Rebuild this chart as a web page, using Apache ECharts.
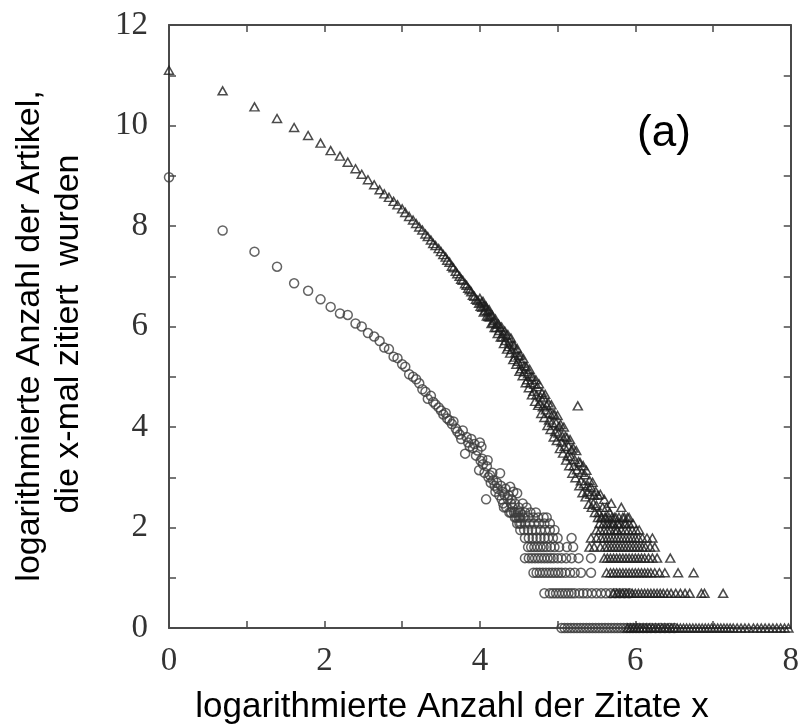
<!DOCTYPE html>
<html><head><meta charset="utf-8">
<script src="https://cdn.jsdelivr.net/npm/echarts@6/dist/echarts.min.js"></script>
<style>html,body{margin:0;padding:0;background:#fff}#c{width:802px;height:728px}</style>
</head><body><div id="c"></div>
<script>
// axis ranges / tick labels
const xRange = [0, 8];
const yRange = [0, 12];
const xLabelValues = [0, 2, 4, 6, 8];
const yLabelValues = [0, 2, 4, 6, 8, 10, 12];

// triangles: upper distribution, distinct points [x, y]
const triCurve = [[0,11.10],[0.69,10.69],[1.10,10.37],[1.39,10.14],[1.61,9.96],[1.79,9.80],[1.95,9.65],[2.08,9.50],[2.20,9.39],[2.30,9.27],[2.40,9.14],[2.48,9.03],[2.56,8.92],[2.64,8.82],[2.71,8.72],[2.77,8.64],[2.83,8.57],[2.89,8.49],[2.94,8.42],[3.00,8.34],[3.04,8.27],[3.09,8.19],[3.14,8.12],[3.18,8.05],[3.22,7.98],[3.26,7.92],[3.30,7.84],[3.33,7.79],[3.37,7.72],[3.40,7.65],[3.43,7.61],[3.47,7.55],[3.50,7.49],[3.53,7.43],[3.56,7.38],[3.58,7.32],[3.61,7.28],[3.64,7.20],[3.66,7.17],[3.69,7.10],[3.71,7.05],[3.74,7.00],[3.76,6.94],[3.78,6.92],[3.81,6.85],[3.83,6.82],[3.85,6.76],[3.87,6.73],[3.89,6.69],[3.91,6.62],[3.93,6.60],[3.95,6.54],[3.97,6.52],[3.99,6.46],
[4.00,6.56],[4.01,6.40],[4.02,6.48],[4.03,6.38],[4.04,6.50],[4.05,6.29],[4.06,6.41],[4.07,6.32],[4.08,6.40],[4.09,6.21],[4.10,6.31],[4.11,6.20],[4.12,6.33],[4.13,6.19],[4.14,6.24],[4.15,6.06],[4.16,6.22],[4.17,6.08],[4.18,6.12],[4.19,5.98],[4.20,6.15],[4.21,5.98],[4.22,6.05],[4.23,5.86],[4.24,6.05],[4.25,5.92],[4.26,5.98],[4.27,5.79],[4.28,5.99],[4.29,5.79],[4.30,5.86],[4.31,5.66],[4.32,5.91],[4.33,5.72],[4.34,5.82],[4.35,5.55],[4.36,5.84],[4.37,5.60],[4.38,5.69],[4.39,5.47],[4.40,5.77],[4.41,5.54],[4.42,5.65],[4.43,5.34],[4.44,5.63],[4.45,5.39],[4.46,5.48],[4.47,5.25],[4.48,5.56],[4.49,5.31],[4.50,5.42],[4.51,5.11],[4.52,5.43],[4.53,5.16],[4.54,5.27],[4.55,5.02],[4.56,5.36],[4.57,5.10],[4.58,5.22],[4.59,4.88],[4.60,5.20],[4.61,4.94],[4.62,5.06],[4.63,4.78],[4.64,5.15],[4.65,4.88],[4.66,5.01],[4.67,4.64],[4.68,5.00],[4.69,4.71],[4.70,4.85],[4.71,4.51],[4.72,4.94],[4.73,4.64],[4.74,4.80],[4.75,4.43],[4.76,4.86],[4.77,4.47],[4.78,4.60],[4.79,4.27],[4.80,4.68],[4.81,4.40],[4.82,4.58],[4.83,4.19],[4.84,4.65],[4.85,4.34],[4.86,4.43],[4.87,4.03],[4.88,4.48],[4.89,4.14],[4.90,4.28],[4.91,3.95],[4.92,4.44],[4.93,4.09],[4.94,4.26],[4.95,3.80],[4.96,4.25],[4.97,3.91],[4.98,4.08],[4.99,3.73],[5.00,4.23],[5.01,3.88],[5.02,4.02],[5.03,3.57],[5.04,4.05],[5.05,3.70],[5.06,3.82],[5.07,3.48],[5.08,4.00],[5.09,3.61],[5.10,3.81],[5.11,3.34],[5.12,3.79],[5.13,3.43],[5.14,3.62],[5.15,3.23],[5.16,3.75],[5.17,3.41],[5.18,3.55],[5.19,3.08],[5.20,3.58],[5.21,3.23],[5.22,3.35],[5.23,2.99],[5.24,3.53],[5.25,3.15],[5.26,4.42],[5.27,3.31],[5.28,2.83],[5.29,3.29],[5.30,2.93],[5.31,3.10],[5.32,2.69],[5.33,3.23],[5.34,2.87],[5.35,3.05],[5.36,2.61],[5.37,3.14],[5.38,2.71],[5.39,2.83],[5.40,2.46],[5.41,2.94],[5.42,2.66],[5.43,2.80],[5.44,2.40],[5.45,2.90],[5.46,2.48],[5.47,2.64],[5.48,2.30],[5.49,2.72],[5.50,2.44],[5.52,2.64],[5.53,2.30],[5.55,2.66],[5.56,2.20],[5.58,2.40],[5.60,2.56],[5.61,2.20],[5.63,2.40],[5.65,2.08],[5.67,2.30],[5.69,2.48],[5.71,2.08],[5.73,2.20],[5.76,1.95],[5.78,2.08],[5.82,2.40],[5.84,2.20],[5.88,2.08],[5.92,2.20]];

// triangles on the low count levels ln(n): x positions per level
const triRowLevels = [2.20, 2.08, 1.95, 1.79, 1.61, 1.39, 1.10, 0.69, 0];
const triRowX = [
  [5.52,5.57,5.62,5.66,5.70,5.75,5.79,5.86,5.90],
  [5.54,5.59,5.63,5.68,5.72,5.77,5.81,5.86,5.92,5.97],
  [5.50,5.55,5.60,5.64,5.68,5.73,5.77,5.82,5.87,5.91,5.96,6.01,6.05],
  [5.43,5.50,5.56,5.60,5.64,5.68,5.72,5.76,5.80,5.84,5.88,5.92,5.96,6.00,6.04,6.09,6.15,6.22],
  [5.41,5.47,5.55,5.61,5.65,5.69,5.73,5.77,5.81,5.85,5.89,5.93,5.97,6.01,6.05,6.09,6.13,6.19,6.25],
  [5.60,5.64,5.68,5.72,5.76,5.80,5.84,5.88,5.92,5.96,6.00,6.04,6.08,6.12,6.17,6.22,6.28,6.45],
  [5.63,5.68,5.72,5.76,5.80,5.84,5.88,5.92,5.96,6.00,6.04,6.08,6.12,6.16,6.20,6.25,6.31,6.38,6.55,6.75],
  [5.72,5.76,5.80,5.84,5.88,5.92,5.96,6.00,6.04,6.08,6.12,6.16,6.20,6.24,6.28,6.32,6.36,6.41,6.46,6.52,6.58,6.64,6.70,6.85,6.89,7.13],
  [5.90,5.94,5.98,6.02,6.06,6.10,6.14,6.18,6.22,6.26,6.30,6.34,6.38,6.42,6.46,6.50,6.54,6.58,6.62,6.66,6.70,6.74,6.78,6.82,6.86,6.90,6.94,6.98,7.02,7.06,7.10,7.14,7.18,7.22,7.26,7.31,7.36,7.41,7.46,7.52,7.57,7.62,7.67,7.72,7.77,7.82,7.87,7.92,7.97]
];

// circles: lower distribution, distinct points [x, y]
const circCurve = [[0,8.97],[0.69,7.91],[1.10,7.49],[1.39,7.19],[1.61,6.86],[1.79,6.71],[1.95,6.54],[2.08,6.39],[2.20,6.26],[2.30,6.23],[2.40,6.06],[2.48,6.00],[2.56,5.87],[2.64,5.80],[2.71,5.71],[2.77,5.58],[2.83,5.55],[2.89,5.40],[2.94,5.37],[3.00,5.25],[3.04,5.20],[3.09,5.05],[3.14,5.00],[3.18,4.95],[3.22,4.87],[3.26,4.75],[3.30,4.70],[3.33,4.56],[3.37,4.62],[3.40,4.50],[3.43,4.45],[3.47,4.39],[3.50,4.33],[3.53,4.25],[3.56,4.28],[3.58,4.17],[3.61,4.13],[3.64,4.06],[3.66,4.11],[3.69,3.97],[3.71,3.91],[3.74,3.85],[3.76,3.76],[3.78,3.93],[3.81,3.47],[3.83,3.80],[3.85,3.69],[3.87,3.61],[3.89,3.76],[3.91,3.58],[3.93,3.66],[3.95,3.43],[3.97,3.53],[3.99,3.14],[4.00,3.69],[4.01,3.33],[4.02,3.61],[4.03,3.37],[4.04,3.26],[4.06,3.09],[4.08,2.56],[4.09,3.22],[4.10,3.34],[4.11,3.00],[4.13,3.04],[4.14,2.89],[4.16,3.09],[4.17,2.94],[4.19,2.83],[4.20,2.71],[4.22,2.89],[4.23,2.77],[4.25,2.64],[4.26,3.08],[4.27,2.83],[4.28,2.56],[4.29,2.71],[4.30,2.48],[4.31,2.40],[4.32,2.64],[4.33,2.77],[4.34,2.40],[4.36,2.56],[4.37,2.64],[4.38,2.30],[4.39,2.81],[4.40,2.48],[4.41,2.56],[4.42,2.40],[4.43,2.71],[4.44,2.30],[4.45,2.48],[4.47,2.20],[4.48,2.68],[4.49,2.30],[4.50,2.40],[4.51,2.08],[4.52,2.20],[4.55,2.48],[4.60,2.40]];

// circles on the low count levels ln(n)
const circRowLevels = [2.30, 2.20, 2.08, 1.95, 1.79, 1.61, 1.39, 1.10, 0.69, 0];
const circRowX = [
  [4.40,4.46,4.52,4.58,4.65,4.72],
  [4.45,4.50,4.56,4.62,4.69,4.75,4.82,4.86],
  [4.48,4.53,4.58,4.64,4.70,4.76,4.83,4.90],
  [4.52,4.57,4.62,4.67,4.72,4.78,4.84,4.90,4.96],
  [4.58,4.63,4.68,4.73,4.78,4.83,4.88,4.94,5.00,5.18],
  [4.62,4.66,4.70,4.74,4.78,4.82,4.86,4.91,4.96,5.02,5.12,5.20],
  [4.58,4.63,4.67,4.71,4.75,4.79,4.83,4.87,4.91,4.95,5.00,5.05,5.11,5.18,5.27,5.43],
  [4.69,4.73,4.77,4.81,4.85,4.89,4.93,4.97,5.01,5.05,5.10,5.16,5.22,5.30,5.43],
  [4.83,4.90,4.94,4.98,5.02,5.06,5.10,5.14,5.18,5.22,5.28,5.33,5.38,5.44,5.50,5.56,5.62,5.68,5.74,5.80,5.86,5.92],
  [5.05,5.09,5.13,5.17,5.21,5.25,5.29,5.33,5.37,5.41,5.45,5.49,5.53,5.57,5.61,5.65,5.69,5.73,5.77,5.81,5.85,5.89,5.93,5.97,6.01,6.05,6.10,6.15,6.20,6.26,6.32,6.38,6.44,6.50]
];

function buildRows(levels, rows) {
  const out = [];
  levels.forEach((lv, i) => rows[i].forEach(x => out.push([x, lv])));
  return out;
}
const triData = triCurve.concat(buildRows(triRowLevels, triRowX));
const circData = circCurve.concat(buildRows(circRowLevels, circRowX));

const axisColor = '#4a4a4a';
const labelFont = { fontFamily: '"Liberation Serif", "DejaVu Serif", serif', fontSize: 33, color: '#333' };
function evenLabel(list) { return v => list.indexOf(v) >= 0 ? String(v) : ''; }
function frameAxis(pos, extra) {
  return Object.assign({
    type: 'value', position: pos, interval: 1,
    axisLine: { show: true, onZero: false, lineStyle: { color: axisColor, width: 2 } },
    axisTick: { show: true, inside: true, length: 7, lineStyle: { color: axisColor, width: 1.5 } },
    axisLabel: { show: false }, splitLine: { show: false }
  }, extra);
}

const chart = echarts.init(document.getElementById('c'), null, { renderer: 'canvas' });
chart.setOption({
  animation: false,
  backgroundColor: '#fff',
  grid: { left: 169, right: 6, top: 25, bottom: 100, containLabel: false },
  xAxis: [
    frameAxis('bottom', { min: xRange[0], max: xRange[1],
      axisLabel: Object.assign({ show: true, margin: 17, formatter: evenLabel(xLabelValues) }, labelFont) }),
    frameAxis('top', { min: xRange[0], max: xRange[1] })
  ],
  yAxis: [
    frameAxis('left', { min: yRange[0], max: yRange[1],
      axisLabel: Object.assign({ show: true, margin: 21, formatter: evenLabel(yLabelValues) }, labelFont) }),
    frameAxis('right', { min: yRange[0], max: yRange[1] })
  ],
  series: [
    { type: 'scatter', name: 'circles', xAxisIndex: 0, yAxisIndex: 0, clip: false,
      symbol: 'circle', symbolSize: 9, data: circData,
      itemStyle: { color: 'rgba(0,0,0,0)', borderColor: '#3c3c3c', borderWidth: 1.5 } },
    { type: 'scatter', name: 'triangles', xAxisIndex: 0, yAxisIndex: 0, clip: false,
      symbol: 'triangle', symbolSize: [9, 8], data: triData,
      itemStyle: { color: 'rgba(0,0,0,0)', borderColor: '#1e1e1e', borderWidth: 1.5 } }
  ],
  graphic: [
    { type: 'text', x: 452, y: 707, style: { text: 'logarithmierte Anzahl der Zitate x', fontFamily: '"Liberation Sans", Arial, sans-serif', fontSize: 35, fill: '#000', align: 'center', verticalAlign: 'middle' } },
    { type: 'text', x: 30, y: 336, rotation: Math.PI / 2, style: { text: 'logarithmierte Anzahl der Artikel,', fontFamily: '"Liberation Sans", Arial, sans-serif', fontSize: 34, fill: '#000', align: 'center', verticalAlign: 'middle' } },
    { type: 'text', x: 69, y: 334, rotation: Math.PI / 2, style: { text: 'die x-mal zitiert  wurden', fontFamily: '"Liberation Sans", Arial, sans-serif', fontSize: 34, fill: '#000', align: 'center', verticalAlign: 'middle' } },
    { type: 'text', x: 664, y: 134, style: { text: '(a)', fontFamily: '"Liberation Sans", Arial, sans-serif', fontSize: 44, fill: '#000', align: 'center', verticalAlign: 'middle' } }
  ]
});
</script>
</body></html>
